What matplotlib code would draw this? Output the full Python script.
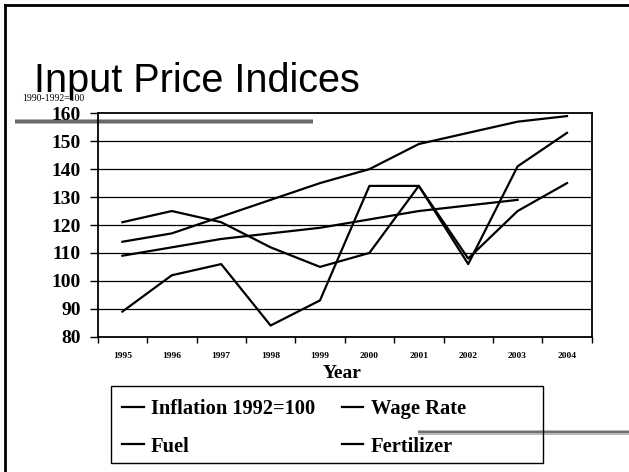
import matplotlib
matplotlib.use("Agg")
import matplotlib.pyplot as plt
from matplotlib.patches import Rectangle
from matplotlib.lines import Line2D

years = ["1995", "1996", "1997", "1998", "1999", "2000", "2001", "2002", "2003", "2004"]
inflation = [109, 112, 115, 117, 119, 122, 125, 127, 129]
wage_rate = [114, 117, 123, 129, 135, 140, 149, 153, 157, 159]
fuel = [89, 102, 106, 84, 93, 134, 134, 106, 141, 153]
fertilizer = [121, 125, 121, 112, 105, 110, 134, 108, 125, 135]
y_ticks = [80, 90, 100, 110, 120, 130, 140, 150, 160]

W, H = 629, 472
fig = plt.figure(figsize=(W / 100, H / 100), dpi=100)

def fx(px):
    return px / W

def fy(py):
    return 1 - py / H

# slide border (top and left)
fig.add_artist(Line2D([fx(4.5), 1], [fy(5), fy(5)], color="black", lw=2.0))
fig.add_artist(Line2D([fx(5), fx(5)], [fy(5), 0], color="black", lw=2.0))

# grey decorative bars
fig.add_artist(Rectangle((fx(15), fy(124)), fx(313) - fx(15), fy(118.5) - fy(124),
                         facecolor="#b0b0b0", edgecolor="none", zorder=0))
fig.add_artist(Rectangle((fx(15), fy(122.5)), fx(313) - fx(15), fy(120) - fy(122.5),
                         facecolor="#6a6a6a", edgecolor="none", zorder=0))
fig.add_artist(Rectangle((fx(418), fy(434.5)), 1 - fx(418), fy(430) - fy(434.5),
                         facecolor="#b8b8b8", edgecolor="none", zorder=0))
fig.add_artist(Rectangle((fx(418), fy(433.3)), 1 - fx(418), fy(431.3) - fy(433.3),
                         facecolor="#707070", edgecolor="none", zorder=0))

# title
fig.text(fx(34), fy(91.5), "Input Price Indices", family="Liberation Sans",
         fontsize=28.5, color="black", ha="left", va="baseline")
fig.text(fx(22), fy(101), "1990-1992=100", family="Liberation Serif",
         fontsize=7, color="black", ha="left", va="baseline")

left, right, top, bottom = 97.7, 591.7, 113.3, 336.7
ax = fig.add_axes([fx(left), fy(bottom), fx(right) - fx(left), fy(top) - fy(bottom)])
ax.set_facecolor("none")

x_all = list(range(len(years)))
l_inf, = ax.plot(x_all[:len(inflation)], inflation, color="black", lw=1.6, label="Inflation 1992=100")
l_wage, = ax.plot(x_all, wage_rate, color="black", lw=1.6, label="Wage Rate")
l_fuel, = ax.plot(x_all, fuel, color="black", lw=1.6, label="Fuel")
l_fert, = ax.plot(x_all, fertilizer, color="black", lw=1.6, label="Fertilizer")

ax.set_xlim(-0.5, len(years) - 0.5)
ax.set_ylim(80, 160)
for v in y_ticks[1:-1]:
    ax.axhline(v, color="black", lw=0.9, zorder=0)

ax.set_xticks(x_all)
ax.set_xticklabels(years, family="Liberation Serif", fontweight="bold", fontsize=6.8)
ax.set_xticks([i - 0.5 for i in range(len(years) + 1)], minor=True)
ax.tick_params(axis="x", which="major", length=0, pad=11)
ax.tick_params(axis="x", which="minor", length=4, width=1, direction="out")

ax.set_yticks(y_ticks)
ax.set_yticklabels([str(v) for v in y_ticks], family="Liberation Serif",
                   fontweight="bold", fontsize=14)
ax.tick_params(axis="y", length=6, width=1, direction="out", pad=6)

for s in ax.spines.values():
    s.set_color("black")
    s.set_linewidth(1.3)

fig.text(fx(342), fy(373), "Year", family="Liberation Serif", fontweight="bold",
         fontsize=14, ha="center", va="center")

# legend box
fig.add_artist(Rectangle((fx(110.7), fy(462.7)), fx(543) - fx(110.7), fy(385.7) - fy(462.7),
                         facecolor="none", edgecolor="black", lw=1.0, zorder=3))
handles = [l_inf, l_fuel, l_wage, l_fert]
labels = [h.get_label() for h in handles]
leg = fig.legend(handles, labels, ncol=2, loc="upper left",
                 bbox_to_anchor=(fx(118), fy(395)), frameon=False,
                 prop={"family": "Liberation Serif", "weight": "bold", "size": 14.8},
                 handlelength=1.05, handletextpad=0.35, columnspacing=1.3,
                 labelspacing=0.85, borderpad=0.2, borderaxespad=0)

fig.savefig("out.png", dpi=100)
